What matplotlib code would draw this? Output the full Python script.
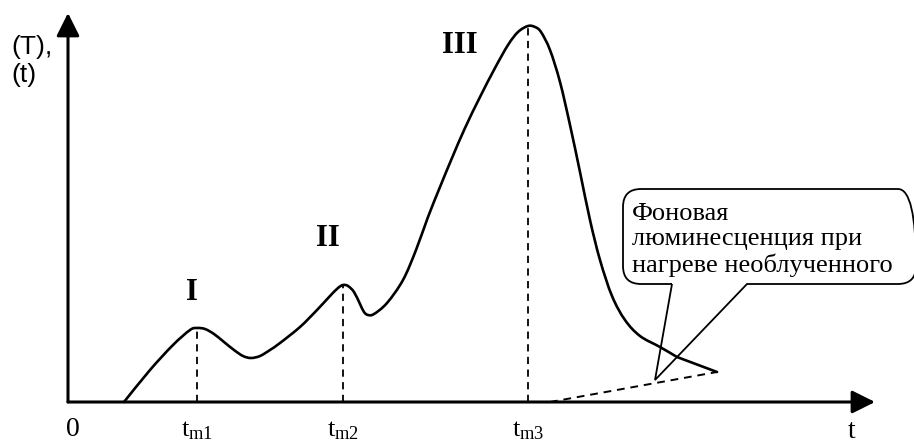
import matplotlib
matplotlib.use("Agg")
import matplotlib.pyplot as plt
from matplotlib.path import Path
from matplotlib.patches import PathPatch

plt.rcParams['mathtext.fontset'] = 'custom'
plt.rcParams['mathtext.rm'] = 'Liberation Serif'
plt.rcParams['mathtext.it'] = 'Liberation Serif:italic'

# ---- data ----
t_curve = [5.6, 8.2, 10.5, 12.2, 12.9, 13.7, 14.6, 15.6, 16.6, 17.5, 18.3, 19.2, 20.2,
           21.2, 23.2, 24.9, 26.2, 27.0, 27.5, 28.0, 28.6, 29.2, 29.6, 30.0, 30.6,
           31.9, 33.5, 34.8, 36.0, 37.2, 38.4, 39.7, 41.2, 42.7, 44.0, 45.0, 46.0,
           46.7, 47.3, 48.2, 49.2, 50.2, 51.2, 52.2, 53.2, 54.4, 55.7, 57.2, 59.2,
           60.9, 64.9]
I_curve = [0.0, 3.2, 5.7, 7.2, 7.4, 7.3, 6.8, 6.0, 5.2, 4.6, 4.4, 4.6, 5.2,
           5.9, 7.5, 9.2, 10.6, 11.4, 11.7, 11.6, 11.0, 9.8, 9.0, 8.7, 8.8,
           9.9, 12.2, 15.2, 18.5, 21.5, 24.4, 27.4, 30.5, 33.4, 35.7, 37.0, 37.6,
           37.5, 37.0, 35.2, 32.0, 27.7, 23.0, 18.2, 14.2, 10.6, 8.2, 6.6, 5.5,
           4.5, 3.0]
t_background = [48.2, 64.9]
I_background = [0.0, 3.0]
peak_t = [12.9, 27.5, 46.0]
peak_I = [7.4, 11.7, 37.6]
peak_names = ['I', 'II', 'III']
tick_labels = [r'$\mathrm{t}_{\mathrm{m1}}$', r'$\mathrm{t}_{\mathrm{m2}}$', r'$\mathrm{t}_{\mathrm{m3}}$']
callout_text = "Фоновая\nлюминесценция при\nнагреве необлученного"

fig = plt.figure(figsize=(9.14, 4.43), dpi=100)
ax = fig.add_axes([0, 0, 1, 1])
ax.set_xlim(-6.8, 84.6)
ax.set_ylim(-4.1, 40.2)
ax.axis('off')

# axes with arrows
arrow_kw = dict(arrowstyle='-|>,head_length=1.0,head_width=0.5', lw=2.2,
                color='black', shrinkA=0, shrinkB=0, mutation_scale=14)
ax.annotate('', xy=(80.7, 0), xytext=(0, 0), arrowprops=arrow_kw)
ax.annotate('', xy=(0, 38.9), xytext=(0, 0), arrowprops=arrow_kw)


def smooth_path(xs, ys, last_straight=True):
    """Catmull-Rom style Bezier path through the given points (drawing only)."""
    pts = list(zip(xs, ys))
    n = len(pts)
    verts = [pts[0]]
    codes = [Path.MOVETO]
    last = n - 1
    for i in range(last):
        if last_straight and i == last - 1:
            verts.append(pts[i + 1])
            codes.append(Path.LINETO)
            continue
        p0 = pts[i - 1] if i > 0 else pts[i]
        p1 = pts[i]
        p2 = pts[i + 1]
        p3 = pts[i + 2] if i + 2 <= last else pts[i + 1]
        if last_straight and i + 2 == last:
            p3 = p2
        c1 = (p1[0] + (p2[0] - p0[0]) / 6.0, p1[1] + (p2[1] - p0[1]) / 6.0)
        c2 = (p2[0] - (p3[0] - p1[0]) / 6.0, p2[1] - (p3[1] - p1[1]) / 6.0)
        verts += [c1, c2, p2]
        codes += [Path.CURVE4] * 3
    return Path(verts, codes)


# glow curve
ax.add_patch(PathPatch(smooth_path(t_curve, I_curve), facecolor='none',
                       edgecolor='black', lw=1.9, joinstyle='round', capstyle='round'))
# background luminescence
ax.plot(t_background, I_background, color='black', lw=1.4, ls=(0, (4, 3)))
# peak verticals
for tp, ip in zip(peak_t, peak_I):
    ax.plot([tp, tp], [0, ip], color='black', lw=1.3, ls=(0, (4, 3)))

# peak names
name_pos = [(12.4, 10.9), (26.0, 16.4), (39.2, 35.7)]
for nm, (x, y) in zip(peak_names, name_pos):
    ax.text(x, y, nm, fontsize=22, fontweight='bold', family='Liberation Serif',
            ha='center', va='center')

# tick labels
ax.text(0.5, -2.7, '0', fontsize=20, family='Liberation Serif', ha='center', va='center')
for tp, lab in zip(peak_t, tick_labels):
    ax.text(tp, -2.7, lab, fontsize=19, ha='center', va='center')
ax.text(78.4, -3.0, 't', fontsize=20, family='Liberation Serif', ha='center', va='center')

# y label
ax.text(-5.7, 34.1, '(T),\n(t)', fontsize=19, family='Liberation Sans',
        ha='left', va='center', linespacing=1.25)

# callout
L, R, T, B, r = 55.5, 84.8, 21.3, 11.8, 1.8
bl, br, tip = 60.4, 67.9, (58.7, 2.2)
verts = [(bl, B), tip, (br, B), (R - r, B), (R, B), (R, B + r), (R, T - r), (R, T),
         (R - r, T), (L + r, T), (L, T), (L, T - r), (L, B + r), (L, B), (L + r, B), (bl, B)]
codes = [Path.MOVETO, Path.LINETO, Path.LINETO, Path.LINETO, Path.CURVE3, Path.CURVE3,
         Path.LINETO, Path.CURVE3, Path.CURVE3, Path.LINETO, Path.CURVE3, Path.CURVE3,
         Path.LINETO, Path.CURVE3, Path.CURVE3, Path.CLOSEPOLY]
ax.add_patch(PathPatch(Path(verts, codes), facecolor='none', edgecolor='black', lw=1.3))
ax.text(56.4, 16.2, callout_text, fontsize=19, family='Liberation Serif',
        ha='left', va='center', linespacing=1.2)

fig.savefig('out.png', dpi=100)
